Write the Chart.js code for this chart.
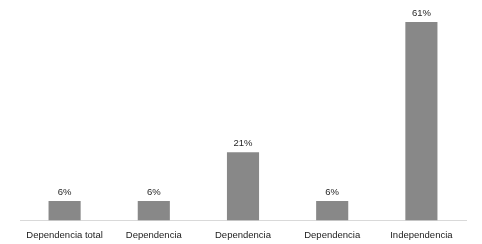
<!DOCTYPE html>
<html><head><meta charset="utf-8">
<script src="https://cdn.jsdelivr.net/npm/chart.js@4/dist/chart.umd.min.js"></script>
<style>html,body{margin:0;padding:0;background:#fff}#w{width:482px;height:244px}</style>
</head><body><div id="w"><canvas id="c"></canvas></div>
<script>
const categories = ["Dependencia total", "Dependencia", "Dependencia", "Dependencia", "Independencia"];
const values = [6, 6, 21, 6, 61];
const valueLabels = ["6%", "6%", "21%", "6%", "61%"];

const FONT = '"Liberation Sans", Arial, sans-serif';
const labelPlugin = {
  id: 'vlabels',
  afterDatasetsDraw(chart) {
    const ctx = chart.ctx;
    const meta = chart.getDatasetMeta(0);
    ctx.save();
    ctx.font = '9.5px ' + FONT;
    ctx.fillStyle = '#262626';
    ctx.textAlign = 'center';
    ctx.textBaseline = 'bottom';
    meta.data.forEach((bar, i) => {
      ctx.fillText(valueLabels[i], bar.x, bar.y - 4);
    });
    ctx.restore();
  }
};

new Chart(document.getElementById('c'), {
  type: 'bar',
  data: { labels: categories, datasets: [{ data: values, backgroundColor: '#888888', barPercentage: 0.36, categoryPercentage: 1 }] },
  options: {
    responsive: true, maintainAspectRatio: false, animation: false,
    layout: { padding: { left: 20, right: 16, top: 9, bottom: 2 } },
    plugins: { legend: { display: false }, tooltip: { enabled: false } },
    scales: {
      x: {
        grid: { display: false },
        border: { display: true, color: '#d9d9d9', width: 1 },
        ticks: { color: '#1a1a1a', font: { family: FONT, size: 9.5 }, padding: 1, maxRotation: 0, autoSkip: false }
      },
      y: { display: false, min: 0, max: 65 }
    }
  },
  plugins: [labelPlugin]
});
</script></body></html>
